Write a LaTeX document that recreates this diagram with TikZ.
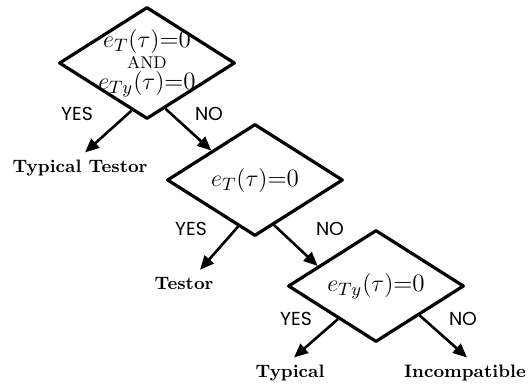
\documentclass[tikz,border=0pt]{standalone}
\usepackage{fontspec}
\usetikzlibrary{shapes.geometric,arrows.meta}
\newfontfamily\answerfont{Poppins}

\begin{document}
\begin{tikzpicture}[
  x=0.5pt,
  y=-0.5pt,
  line join=round,
  decision/.style={draw,diamond,line width=1.6pt,inner sep=-4pt,aspect=1.6,
    minimum width=88pt,minimum height=56pt,align=center,
    font=\fontsize{12.5}{10.6}\selectfont},
  outcome/.style={font=\fontsize{9}{11}\selectfont\bfseries},
  answer/.style={font=\answerfont\fontsize{9.4}{11}\selectfont},
  flowarrow/.style={draw,line width=1.3pt,-{Triangle[length=7pt,width=6pt]}}
]
  % Keep the frame of the original drawing (pixel units).
  \useasboundingbox (0,0) rectangle (530,387);

  % Decision diamonds; the text is allowed to reach the border.
  \node[decision] (bothZero) at (147,63)
    {$e_T(\tau)$=0\\{\fontsize{8.5}{10}\selectfont AND}\\$e_{Ty}(\tau)$=0};
  \node[decision] (testorZero) at (255,180) {$e_T(\tau)$=0};
  \node[decision] (typicalZero) at (376,286) {$e_{Ty}(\tau)$=0};

  % Outcomes sit on their baselines.
  \node[outcome,anchor=base] (typTestor) at (80,172) {Typical Testor};
  \node[outcome,anchor=base] (testor) at (184,289) {Testor};
  \node[outcome,anchor=base] (typical) at (290,377) {Typical};
  \node[outcome,anchor=base] (incompat) at (465,377) {Incompatible};

  % Branch answers.
  \node[answer] (yesA) at (77,114) {YES};
  \node[answer] (noA) at (209,114) {NO};
  \node[answer] (yesB) at (191,229) {YES};
  \node[answer] (noB) at (330,229) {NO};
  \node[answer] (yesC) at (296,319) {YES};
  \node[answer] (noC) at (463,319) {NO};

  % YES goes down left, NO goes down right.
  \draw[flowarrow] (bothZero.-108) -- ([xshift=2.5pt]typTestor.north);
  \draw[flowarrow] (bothZero.-68) -- (testorZero.146);
  \draw[flowarrow] (testorZero.-110) -- ([xshift=8pt]testor.north);
  \draw[flowarrow] (testorZero.-67) -- (typicalZero.161);
  \draw[flowarrow] (typicalZero.-139) -- ([xshift=2pt]typical.north);
  \draw[flowarrow] (typicalZero.-34) -- ([xshift=1pt]incompat.north);
\end{tikzpicture}
\end{document}
